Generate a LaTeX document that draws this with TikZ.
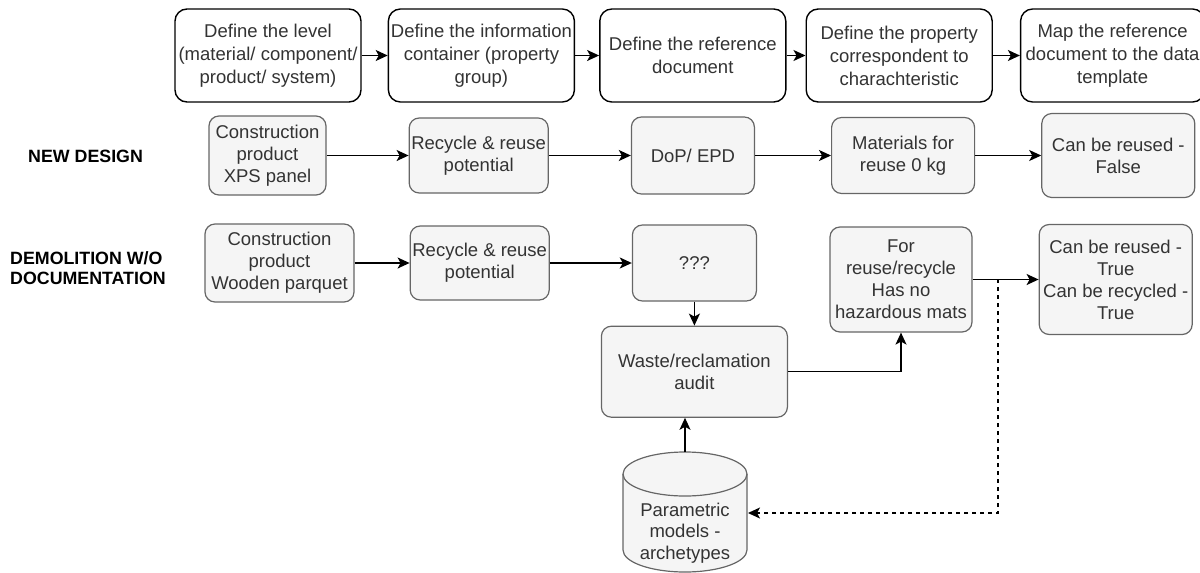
\documentclass[tikz,border=0pt]{standalone}
\usepackage{fontspec}
\setmainfont{Liberation Sans}
\usetikzlibrary{positioning, arrows.meta}
\definecolor{boxfill}{HTML}{F5F5F5}
\definecolor{boxline}{HTML}{666666}
\definecolor{boxtext}{HTML}{333333}

\begin{document}
\begin{tikzpicture}[x=1pt, y=-1pt, node distance=26pt,
		>={Stealth[length=12pt, width=11pt, inset=3pt]},
		stepbox/.style={draw=black, line width=1.4pt, fill=white, rounded corners=12pt, align=center,
			minimum width=186pt, minimum height=93pt, inner sep=1pt, text=boxtext,
			font=\fontsize{18.5}{23}\selectfont},
		databox/.style={draw=boxline, line width=1.2pt, fill=boxfill, rounded corners=10pt, align=center,
			inner sep=1pt, text=boxtext, font=\fontsize{18.5}{22}\selectfont},
		rowlabel/.style={anchor=west, align=left, inner sep=0pt, font=\bfseries\fontsize{17.8}{20}\selectfont},
		flow/.style={->, line width=1.4pt},
		feedback/.style={->, line width=1.3pt, dash pattern=on 4pt off 4pt}]
			\useasboundingbox (0,0) rectangle (1200,573);

			% steps
			\node[stepbox]  (level)  at (268,55.5) {Define the level\\(material/ component/\\product/ system)};
			\node[stepbox, right=26pt of level]  (container)  {Define the information\\container (property\\group)};
			\node[stepbox, right=24pt of container]  (refdoc)  {Define the reference\\document};
			\node[stepbox, right=19pt of refdoc]  (property)  {Define the property\\correspondent to\\charachteristic};
			\node[stepbox, minimum width=184pt, right=27pt of property]  (mapping)  {Map the reference\\document to the data\\template};

			\draw[flow] (level) -- (container) ;
			\draw[flow] (container) -- (refdoc) ;
			\draw[flow] (refdoc) -- (property) ;
			\draw[flow] (property) -- (mapping) ;

			% new design
			\node[rowlabel]  (newdesign)  at (28,156) {NEW DESIGN};
			\node[databox, minimum width=117pt, minimum height=79pt]  (xps)  at (267.5,155.5) {Construction\\product\\XPS panel};
			\node[databox, minimum width=139pt, minimum height=75pt, right=82pt of xps]  (potential)  {Recycle \& reuse\\potential};
			\node[databox, minimum width=123pt, minimum height=77pt, right=82pt of potential]  (dop)  {DoP/ EPD};
			\node[databox, minimum width=143pt, minimum height=76pt, right=76pt of dop]  (reusezero)  {Materials for\\reuse 0 kg};
			\node[databox, minimum width=153pt, minimum height=84pt, right=66pt of reusezero]  (false)  {Can be reused -\\False};

			\draw[flow] (xps) -- (potential) ;
			\draw[flow] (potential) -- (dop) ;
			\draw[flow] (dop) -- (reusezero) ;
			\draw[flow] (reusezero) -- (false) ;

			% demolition
			\node[rowlabel]  (demolition)  at (10,268) {DEMOLITION W/O\\DOCUMENTATION};
			\node[databox, minimum width=149pt, minimum height=78pt]  (parquet)  at (279.5,263) {Construction\\product\\Wooden parquet};
			\node[databox, minimum width=139pt, minimum height=74pt, right=55pt of parquet]  (potentialb)  {Recycle \& reuse\\potential};
			\node[databox, minimum width=124pt, minimum height=76pt, right=82pt of potentialb]  (unknown)  {???};
			\node[databox, minimum width=186pt, minimum height=91pt, below=24pt of unknown]  (audit)  {Waste/reclamation\\audit};
			\node[databox, minimum width=142pt, minimum height=105pt]  (hazard)  at (901,279.5) {For\\reuse/recycle\\Has no\\hazardous mats};
			\node[databox, minimum width=153pt, minimum height=110pt, right=66pt of hazard]  (true)  {Can be reused -\\True\\Can be recycled -\\True};

			% database
			\draw[draw=boxline, line width=1.2pt, fill=boxfill] (623,474) -- (623,550)
				arc[start angle=180, end angle=360, x radius=62pt, y radius=22pt] -- (747,474)
				arc[start angle=0, end angle=180, x radius=62pt, y radius=22pt] -- cycle;
			\draw[draw=boxline, line width=1.2pt] (623,474) arc[start angle=180, end angle=360, x radius=62pt, y radius=22pt];
			\node[align=center, inner sep=0pt, text=boxtext, font=\fontsize{18.5}{21.5}\selectfont]  (archetypes)  at (685,533) {Parametric\\models -\\archetypes};
			\coordinate (dbtop) at (685,452);
			\coordinate (dbin) at (748,513);
			\coordinate (split) at (998,279);

			\draw[flow] (parquet) -- (potentialb) ;
			\draw[flow] (potentialb) -- (unknown) ;
			\draw[flow] (unknown) -- (audit) ;
			\draw[flow] (audit) -| (hazard) ;
			\draw[flow] (hazard) -- (true) ;
			\draw[flow] (dbtop) -- (dbtop |- audit.south) ;
			\draw[feedback] (split) |- (dbin) ;
		\end{tikzpicture}
\end{document}
